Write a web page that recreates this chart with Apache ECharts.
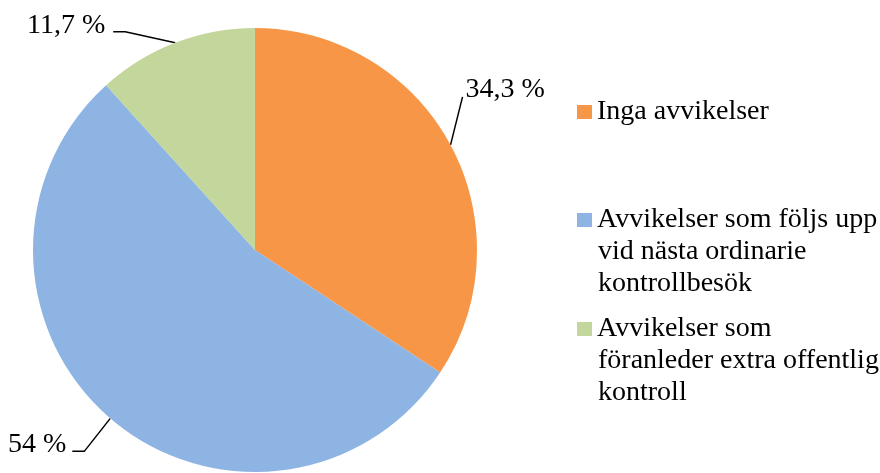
<!DOCTYPE html>
<html>
<head>
<meta charset="utf-8">
<script src="https://cdn.jsdelivr.net/npm/echarts@6/dist/echarts.min.js"></script>
<style>html,body{margin:0;padding:0;background:#fff;}#c{width:880px;height:473px;}</style>
</head>
<body>
<div id="c"></div>
<script>
var categories = ['Inga avvikelser', 'Avvikelser som följs upp vid nästa ordinarie kontrollbesök', 'Avvikelser som föranleder extra offentlig kontroll'];
var legendLines = [['Inga avvikelser'], ['Avvikelser som följs upp', 'vid nästa ordinarie', 'kontrollbesök'], ['Avvikelser som', 'föranleder extra offentlig', 'kontroll']];
var values = [34.3, 54, 11.7];
var colors = ['#F79646', '#8EB4E3', '#C3D69B'];

var FONT = '"Liberation Serif", "Times New Roman", serif';
var FS = 28, LH = 32;

// label line offsets relative to the slice edge point (layout only)
var lineOffsets = [
  [[12, -48], [12, -48]],
  [[-26, 33], [-38, 33]],
  [[-50, -11], [-62, -11]]
];
var labelAnchor = [
  {dx: 3, dy: -7, align: 'left'},
  {dx: -6, dy: -7, align: 'right'},
  {dx: -8, dy: -6, align: 'right'}
];

var legendLeft = 577, textLeft = 598;
var legendCenters = [112, 220, 329];

// continuation lines of the legend entries
var graphics = [];
legendLines.forEach(function (lines, i) {
  if (lines.length > 1) {
    graphics.push({
      type: 'text',
      left: textLeft,
      top: legendCenters[i] + LH / 2,
      silent: true,
      style: {
        text: lines.slice(1).join('\n'),
        font: FS + 'px ' + FONT,
        fontSize: FS,
        fontFamily: FONT,
        lineHeight: LH,
        fill: '#000'
      }
    });
  }
});

var legends = categories.map(function (name, i) {
  return {
    data: [name],
    left: legendLeft,
    top: legendCenters[i] - LH / 2,
    padding: 0,
    itemWidth: 15,
    itemHeight: 14,
    itemGap: 5,
    icon: 'rect',
    selectedMode: false,
    formatter: function () { return legendLines[i][0]; },
    textStyle: {
      fontFamily: FONT,
      fontSize: FS,
      lineHeight: LH,
      color: '#000'
    }
  };
});

var option = {
  animation: false,
  backgroundColor: '#fff',
  color: colors,
  legend: legends,
  graphic: graphics,
  series: [{
    type: 'pie',
    center: [255, 250],
    radius: 222,
    startAngle: 90,
    clockwise: true,
    avoidLabelOverlap: false,
    emphasis: {disabled: true},
    itemStyle: {borderWidth: 0},
    label: {
      show: true,
      position: 'outside',
      fontFamily: FONT,
      fontSize: FS,
      color: '#000',
      formatter: function (p) { return String(p.value).replace('.', ',') + ' %'; }
    },
    labelLine: {
      show: true,
      length: 20,
      length2: 10,
      lineStyle: {color: '#000', width: 1.5}
    },
    labelLayout: function (params) {
      var i = params.dataIndex;
      var p0 = params.labelLinePoints[0];
      var off = lineOffsets[i];
      var p1 = [p0[0] + off[0][0], p0[1] + off[0][1]];
      var p2 = [p0[0] + off[1][0], p0[1] + off[1][1]];
      var a = labelAnchor[i];
      return {
        x: p2[0] + a.dx,
        y: p2[1] + a.dy,
        align: a.align,
        verticalAlign: 'middle',
        labelLinePoints: [p0, p1, p2]
      };
    },
    data: categories.map(function (c, i) { return {name: c, value: values[i]}; })
  }]
};

var chart = echarts.init(document.getElementById('c'), null, {renderer: 'canvas'});
chart.setOption(option);
</script>
</body>
</html>
